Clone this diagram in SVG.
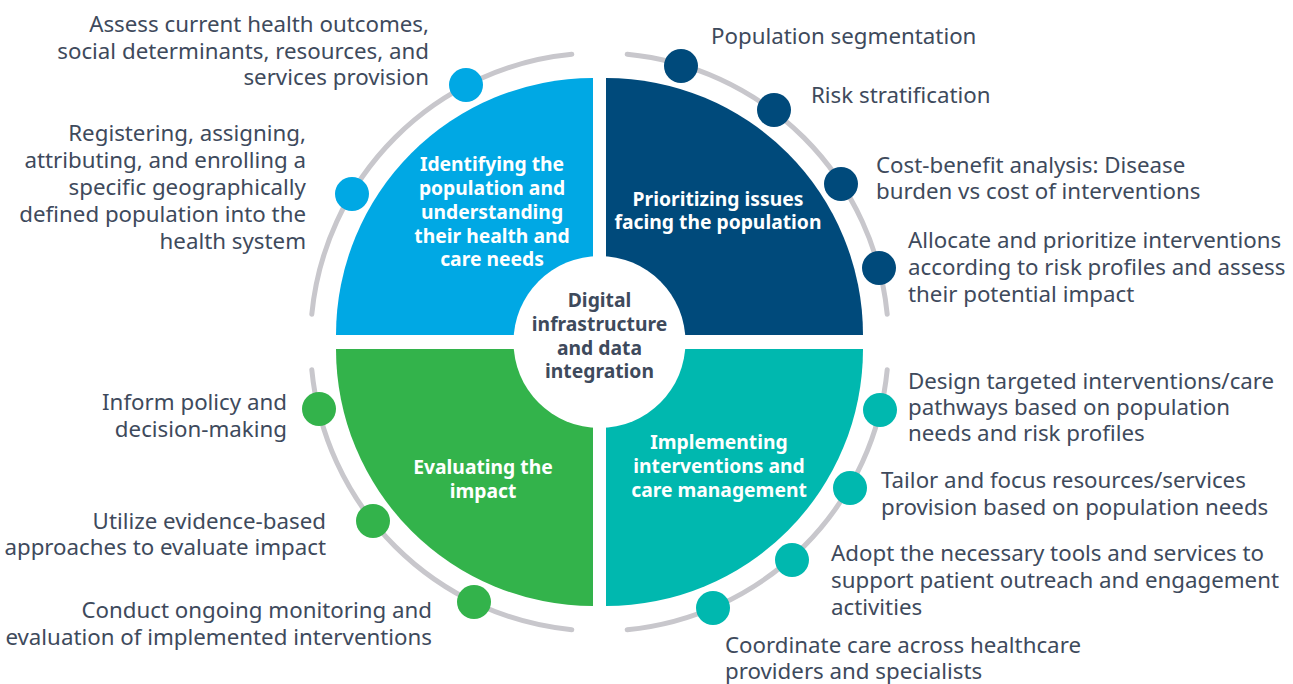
<svg xmlns="http://www.w3.org/2000/svg" width="1293" height="684" viewBox="0 0 1293 684">
<style>
.lbl{font-family:"Noto Sans","Open Sans",sans-serif;font-size:22.3px;fill:#3e4a5c}
.r{text-anchor:end}
.q{font-family:"Noto Sans","Open Sans",sans-serif;font-size:19.3px;font-weight:bold;fill:#ffffff;text-anchor:middle}
.c{font-family:"Noto Sans","Open Sans",sans-serif;font-size:19.3px;font-weight:bold;fill:#3e4a5c;text-anchor:middle}
.arc{fill:none;stroke:#c8c7cc;stroke-width:5;stroke-linecap:round}
</style>
<rect width="1293" height="684" fill="#ffffff"/>
<g id="connectors">
<path class="arc" d="M311.8,314.3 A289,289 0 0 1 571.8,54.3"/>
<path class="arc" d="M627.2,54.3 A289,289 0 0 1 887.2,314.3"/>
<path class="arc" d="M887.2,369.7 A289,289 0 0 1 627.2,629.7"/>
<path class="arc" d="M571.8,629.7 A289,289 0 0 1 311.8,369.7"/>
</g>
<g id="q-identify">
<path d="M593,335 L336,335 A257,257 0 0 1 593,78 Z" fill="#00a8e4"/>
<text class="q"><tspan x="492" y="171">Identifying the</tspan><tspan x="492" y="195">population and</tspan><tspan x="492" y="219">understanding</tspan><tspan x="492" y="243">their health and</tspan><tspan x="492" y="266">care needs</tspan></text>
</g>
<g id="q-prioritize">
<path d="M606,335 L606,78 A257,257 0 0 1 863,335 Z" fill="#004a7b"/>
<text class="q"><tspan x="718" y="206">Prioritizing issues</tspan><tspan x="718" y="229">facing the population</tspan></text>
</g>
<g id="q-evaluate">
<path d="M593,349 L593,606 A257,257 0 0 1 336,349 Z" fill="#33b34b"/>
<text class="q"><tspan x="483" y="474">Evaluating the</tspan><tspan x="483" y="498">impact</tspan></text>
</g>
<g id="q-implement">
<path d="M606,349 L863,349 A257,257 0 0 1 606,606 Z" fill="#00b8af"/>
<text class="q"><tspan x="719" y="449">Implementing</tspan><tspan x="719" y="473">interventions and</tspan><tspan x="719" y="497">care management</tspan></text>
</g>
<g id="center">
<circle cx="599.5" cy="342" r="86" fill="#ffffff"/>
<text class="c"><tspan x="599.5" y="307">Digital</tspan><tspan x="599.5" y="331">infrastructure</tspan><tspan x="599.5" y="355">and data</tspan><tspan x="599.5" y="378">integration</tspan></text>
</g>
<g id="dots-identify" fill="#00a8e4">
<circle cx="466" cy="85" r="17"/>
<circle cx="352" cy="194" r="17"/>
</g>
<g id="dots-prioritize" fill="#004a7b">
<circle cx="681" cy="66" r="17"/>
<circle cx="774" cy="110" r="17"/>
<circle cx="841" cy="184" r="17"/>
<circle cx="879" cy="268" r="17"/>
</g>
<g id="dots-evaluate" fill="#33b34b">
<circle cx="319" cy="409" r="17"/>
<circle cx="373" cy="521" r="17"/>
<circle cx="474" cy="602" r="17"/>
</g>
<g id="dots-implement" fill="#00b8af">
<circle cx="880" cy="410" r="17"/>
<circle cx="850" cy="488" r="17"/>
<circle cx="792" cy="560" r="17"/>
<circle cx="713" cy="608" r="17"/>
</g>
<g id="labels-left">
<text class="lbl r"><tspan x="429" y="32">Assess current health outcomes,</tspan><tspan x="429" y="59">social determinants, resources, and</tspan><tspan x="429" y="85">services provision</tspan></text>
<text class="lbl r"><tspan x="306" y="141">Registering, assigning,</tspan><tspan x="306" y="168">attributing, and enrolling a</tspan><tspan x="306" y="195">specific geographically</tspan><tspan x="306" y="222">defined population into the</tspan><tspan x="306" y="249">health system</tspan></text>
<text class="lbl r"><tspan x="287" y="410">Inform policy and</tspan><tspan x="287" y="437">decision-making</tspan></text>
<text class="lbl r"><tspan x="326" y="529">Utilize evidence-based</tspan><tspan x="326" y="555">approaches to evaluate impact</tspan></text>
<text class="lbl r"><tspan x="432" y="618">Conduct ongoing monitoring and</tspan><tspan x="432" y="645">evaluation of implemented interventions</tspan></text>
</g>
<g id="labels-right">
<text class="lbl"><tspan x="711" y="44">Population segmentation</tspan></text>
<text class="lbl"><tspan x="811" y="103">Risk stratification</tspan></text>
<text class="lbl"><tspan x="876" y="173">Cost-benefit analysis: Disease</tspan><tspan x="876" y="199">burden vs cost of interventions</tspan></text>
<text class="lbl"><tspan x="908" y="248">Allocate and prioritize interventions</tspan><tspan x="908" y="275">according to risk profiles and assess</tspan><tspan x="908" y="302">their potential impact</tspan></text>
<text class="lbl"><tspan x="908" y="389">Design targeted interventions/care</tspan><tspan x="908" y="415">pathways based on population</tspan><tspan x="908" y="441">needs and risk profiles</tspan></text>
<text class="lbl"><tspan x="881" y="488">Tailor and focus resources/services</tspan><tspan x="881" y="515">provision based on population needs</tspan></text>
<text class="lbl"><tspan x="831" y="561">Adopt the necessary tools and services to</tspan><tspan x="831" y="588">support patient outreach and engagement</tspan><tspan x="831" y="615">activities</tspan></text>
<text class="lbl"><tspan x="725" y="653">Coordinate care across healthcare</tspan><tspan x="725" y="679">providers and specialists</tspan></text>
</g>
</svg>
